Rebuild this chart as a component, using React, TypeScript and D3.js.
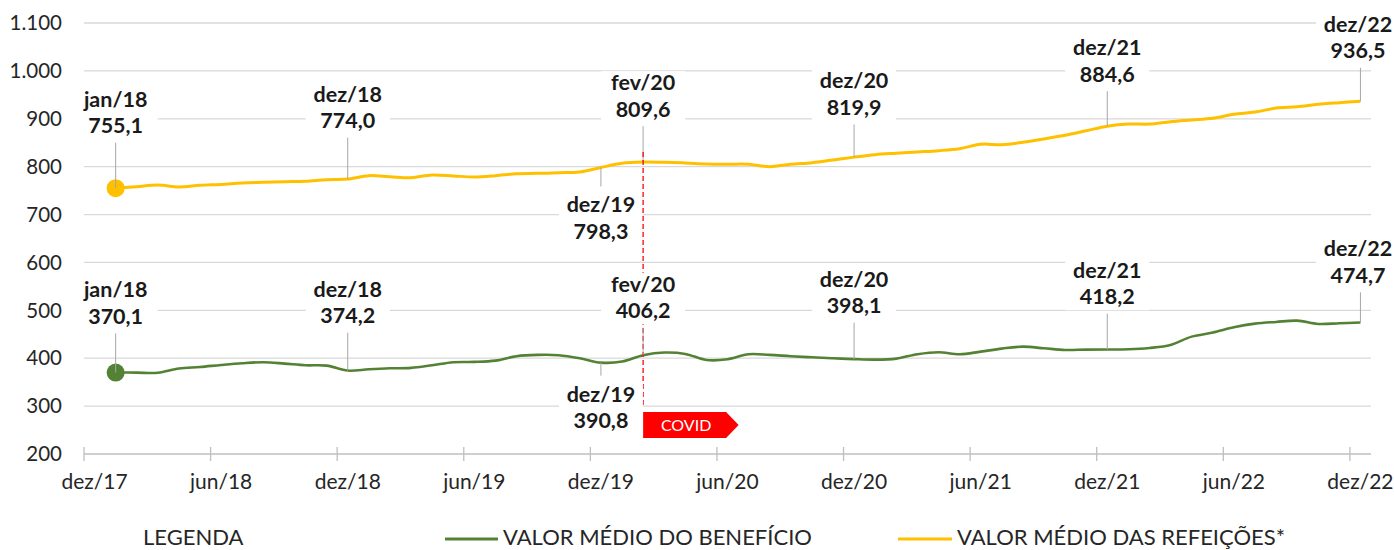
import * as d3 from "d3";

// months on the category axis: dez/17 .. dez/22 (data starts in jan/18)
const monthNames = ["jan", "fev", "mar", "abr", "mai", "jun", "jul", "ago", "set", "out", "nov", "dez"];
const years = ["18", "19", "20", "21", "22"];
const categories = ["dez/17", ...years.flatMap((yy) => monthNames.map((m) => `${m}/${yy}`))];
const months = categories.slice(1);

// valor médio das refeições (R$), jan/18 .. dez/22
const valorRefeicoes = [
  755.1, 758.3, 761.5, 757.6, 761.0, 763.0, 766.0, 767.4, 768.7, 769.5, 772.9, 774.0,
  781.2, 779.1, 777.0, 782.7, 780.6, 778.5, 781.2, 785.4, 786.0, 787.5, 789.0, 798.3,
  807.0, 809.6, 809.0, 807.7, 805.6, 805.0, 805.0, 800.0, 805.0, 808.4, 814.0, 819.9,
  825.0, 828.0, 830.7, 833.4, 837.6, 846.8, 846.0, 851.0, 857.8, 865.5, 875.0, 884.6,
  889.0, 889.0, 894.0, 897.5, 901.0, 909.4, 914.0, 922.5, 925.3, 930.3, 933.6, 936.5,
];

// valor médio do benefício (R$), jan/18 .. dez/22
const valorBeneficio = [
  370.1, 370.0, 369.5, 378.6, 381.8, 386.0, 389.6, 391.6, 388.8, 385.3, 384.6, 374.2,
  377.0, 379.0, 379.8, 385.3, 391.6, 392.3, 395.0, 404.2, 406.9, 406.3, 400.0, 390.8,
  393.0, 406.2, 411.8, 409.0, 396.4, 397.8, 408.3, 406.9, 404.2, 402.0, 400.0, 398.1,
  397.0, 399.2, 408.3, 412.5, 408.3, 413.8, 420.0, 424.2, 420.8, 417.3, 418.0, 418.2,
  418.7, 421.5, 427.8, 445.1, 453.5, 464.7, 472.2, 475.8, 478.5, 471.6, 473.0, 474.7,
];

const yTicks = [200, 300, 400, 500, 600, 700, 800, 900, 1000, 1100];
const xTickLabels = ["dez/17", "jun/18", "dez/18", "jun/19", "dez/19", "jun/20", "dez/20", "jun/21", "dez/21", "jun/22", "dez/22"];

const highlightMonths = ["jan/18", "dez/18", "dez/19", "fev/20", "dez/20", "dez/21", "dez/22"];
const covidMonth = "fev/20";

const seriesKeys = ["refeicoes", "beneficio"];
const seriesNames = { beneficio: "VALOR MÉDIO DO BENEFÍCIO", refeicoes: "VALOR MÉDIO DAS REFEIÇÕES*" };
const seriesValues = { beneficio: valorBeneficio, refeicoes: valorRefeicoes };

// styling / layout
const colors = { beneficio: "#548235", refeicoes: "#FFC000" };
// px from the point up to the value baseline (negative: label below, px down to the month baseline)
const labelLift = {
  refeicoes: [55, 51, -45, 45.4, 42.2, 44.5, 43],
  beneficio: [48.6, 47.3, -39, 37, 46, 45.3, 39.6],
};

const width = 1394;
const height = 550;
const font = "Lato, 'Open Sans', sans-serif";

const locale = d3.formatLocale({ decimal: ",", thousands: ".", grouping: [3], currency: ["R$", ""] });
const fmtTick = locale.format(",.0f");
const fmtValue = locale.format(",.1f");

export default function App() {
  const x = d3.scaleBand(categories, [84, 1371]);
  const cx = (m: string) => (x(m) ?? 0) + x.bandwidth() / 2;
  const y = d3.scaleLinear([200, 1100], [454, 23]);

  const line = d3
    .line<number>()
    .x((_, i) => cx(months[i]))
    .y((d) => y(d))
    .curve(d3.curveCatmullRom.alpha(0.5));

  const covidX = cx(covidMonth);
  const covidIdx = months.indexOf(covidMonth);
  const tagTop = y(300) + 6;

  return (
    <svg
      width={width}
      height={height}
      style={{ position: "absolute", left: 0, top: 0, display: "block", background: "#fff" }}
      fontFamily={font}
    >
      {/* gridlines */}
      <g stroke="#d9d9d9" strokeWidth={1.3}>
        {yTicks.slice(1).map((t) => (
          <line key={t} x1={84} x2={1371} y1={y(t)} y2={y(t)} />
        ))}
      </g>

      {/* y axis labels */}
      <g fontSize={20.5} fill="#262626" textAnchor="end">
        {yTicks.map((t) => (
          <text key={t} x={62} y={y(t)} dy="0.35em">
            {fmtTick(t)}
          </text>
        ))}
      </g>

      {/* x axis */}
      <g stroke="#bfbfbf" strokeWidth={1.3}>
        <line x1={84} x2={1371} y1={y(200)} y2={y(200)} />
        {xTickLabels.map((m) => (
          <line key={m} x1={x(m)} x2={x(m)} y1={y(200) - 7} y2={y(200) + 7} />
        ))}
      </g>
      <g fontSize={21} fill="#262626" textAnchor="middle">
        {xTickLabels.map((m) => (
          <text key={m} x={cx(m)} y={489}>
            {m}
          </text>
        ))}
      </g>

      {/* series lines */}
      {seriesKeys.map((k) => (
        <g key={k}>
          <path
            d={line(seriesValues[k]) ?? ""}
            fill="none"
            stroke={colors[k]}
            strokeWidth={k === "refeicoes" ? 3 : 2.6}
            strokeLinejoin="round"
          />
          <circle cx={cx(months[0])} cy={y(seriesValues[k][0])} r={9} fill={colors[k]} />
        </g>
      ))}

      {/* highlighted values */}
      {seriesKeys.map((k) => (
        <g key={k}>
          {highlightMonths.map((m, j) => {
            const i = months.indexOf(m);
            const px = cx(m);
            const tx = Math.min(px, width - 36); // keep the last label inside the page
            const py = y(seriesValues[k][i]);
            const lift = labelLift[k][j];
            const below = lift < 0;
            const nameBase = below ? py - lift : py - lift - 26.5;
            const valueBase = nameBase + 26.5;
            const leader = below ? [py, nameBase - 26] : [valueBase + 9.5, py];
            return (
              <g key={m}>
                <rect x={tx - 42} y={nameBase - 19} width={84} height={valueBase - nameBase + 25} fill="#fff" />
                <line x1={px} x2={px} y1={leader[0]} y2={leader[1]} stroke="#a6a6a6" strokeWidth={1} />
                <text x={tx} y={nameBase} textAnchor="middle" fontSize={21.5} fontWeight={700} fill="#1a1a1a">
                  {m}
                </text>
                <text x={tx} y={valueBase} textAnchor="middle" fontSize={21.5} fontWeight={700} fill="#1a1a1a">
                  {fmtValue(seriesValues[k][i])}
                </text>
              </g>
            );
          })}
          {k === "refeicoes" && (
            <line
              x1={covidX}
              x2={covidX}
              y1={y(valorRefeicoes[covidIdx]) - 10}
              y2={y(300)}
              stroke="#ff0000"
              strokeWidth={1.3}
              strokeDasharray="5,3"
            />
          )}
        </g>
      ))}

      {/* COVID tag */}
      <path
        d={`M${covidX},${tagTop} H${covidX + 83} L${covidX + 95.5},${tagTop + 13} L${covidX + 83},${tagTop + 26} H${covidX} Z`}
        fill="#ff0000"
      />
      <text x={covidX + 43} y={tagTop + 19} textAnchor="middle" fontSize={16} fill="#fff">
        COVID
      </text>

      {/* legend */}
      <g fontSize={22} fill="#262626">
        <text x={143} y={545}>
          LEGENDA
        </text>
        <line x1={445} x2={498} y1={539} y2={539} stroke={colors.beneficio} strokeWidth={3} />
        <text x={503} y={545}>
          {seriesNames.beneficio}
        </text>
        <line x1={898} x2={952} y1={539} y2={539} stroke={colors.refeicoes} strokeWidth={3} />
        <text x={957} y={545}>
          {seriesNames.refeicoes}
        </text>
      </g>
    </svg>
  );
}
